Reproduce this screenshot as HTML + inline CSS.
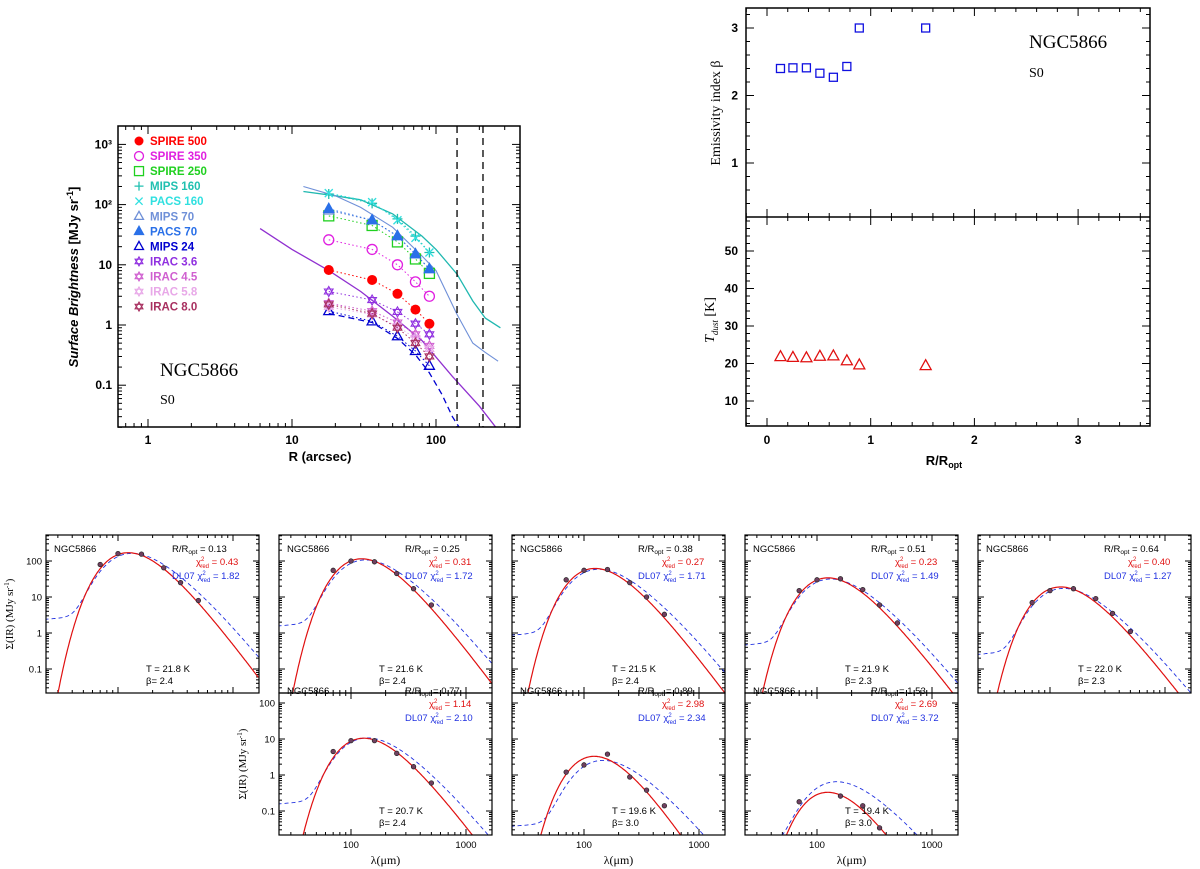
<!DOCTYPE html>
<html><head><meta charset="utf-8">
<style>
body{margin:0;background:#fff;}
svg{display:block;font-family:"Liberation Sans",sans-serif;}
.serif{font-family:"Liberation Serif",serif;}
</style></head>
<body>
<svg id="fig" width="1200" height="869" viewBox="0 0 1200 869" xmlns="http://www.w3.org/2000/svg"></svg>
<script>
// ---------- Top-left profile data ----------
const profR = [18, 36, 54, 72, 90];
const profNames = ["SPIRE 500","SPIRE 350","SPIRE 250","MIPS 160","PACS 160","MIPS 70","PACS 70","MIPS 24","IRAC 3.6","IRAC 4.5","IRAC 5.8","IRAC 8.0"];
const profColors = ["#ff0000","#e020e0","#20d020","#20c0b0","#30e0e0","#6f90d8","#2a70e8","#0000d0","#9030e0","#d060d0","#e8a8e8","#a83060"];
const profMarkers = ["fcircle","ocircle","osquare","plus","cross","otri","ftri","otri","star","star","star","star"];
const sSpire500 = [8.2, 5.6, 3.3, 1.8, 1.05];
const sSpire350 = [26, 18, 10, 5.2, 3.0];
const sSpire250 = [65, 45, 24, 12.5, 7.2];
const sMips160 = [150, 105, 58, 30, 16];
const sPacs160 = [155, 110, 55, 28, 16];
const sMips70 = [80, 55, 30, 15, 8.5];
const sPacs70 = [85, 55, 30, 15, 8.5];
const sMips24 = [1.7, 1.15, 0.65, 0.37, 0.21];
const sIrac36 = [3.6, 2.6, 1.65, 1.05, 0.7];
const sIrac45 = [2.3, 1.7, 1.1, 0.7, 0.45];
const sIrac58 = [2.0, 1.5, 0.95, 0.6, 0.4];
const sIrac80 = [2.2, 1.55, 0.9, 0.5, 0.3];
const profSeries = [sSpire500,sSpire350,sSpire250,sMips160,sPacs160,sMips70,sPacs70,sMips24,sIrac36,sIrac45,sIrac58,sIrac80];
const lineIracR = [6,10,18,30,50,80,130,200,260];
const lineIracV = [40,18,8,3.6,1.4,0.55,0.14,0.045,0.02];
const lineM160R = [12,20,30,50,80,100,140,180,220,280];
const lineM160V = [165,140,120,70,30,18,7,2.5,1.3,0.9];
const lineM70R = [12,20,30,50,80,100,140,180,220,270];
const lineM70V = [200,140,90,42,14,8,1.5,0.5,0.35,0.25];
const lineM24R = [18,36,54,72,90,110,130,145];
const lineM24V = [1.55,1.1,0.6,0.32,0.16,0.07,0.03,0.02];
const vLinesR = [140, 212];
// ---------- Top-right data ----------
const rOpt = [0.13,0.25,0.38,0.51,0.64,0.77,0.89,1.53];
const betaVals = [2.4,2.41,2.41,2.33,2.27,2.43,3.0,3.0];
const tdustVals = [21.8,21.6,21.5,21.9,22.0,20.7,19.6,19.4];
// ---------- SED panels data ----------
const sedLam = [70,100,160,250,350,500];
const sedR = ["0.13","0.25","0.38","0.51","0.64","0.77","0.89","1.53"];
const sedChi = ["0.43","0.31","0.27","0.23","0.40","1.14","2.98","2.69"];
const sedDL = ["1.82","1.72","1.71","1.49","1.27","2.10","2.34","3.72"];
const sedT = [21.8,21.6,21.5,21.9,22.0,20.7,19.6,19.4];
const sedBeta = [2.4,2.4,2.4,2.3,2.3,2.4,3.0,3.0];
const sedPeak = [170,115,62,34,19,10.5,3.3,0.33];
const sedDLPeak = [160,105,58,31,17,10.5,2.5,0.64];
const sedData = [
 [80,160,155,65,25,8],
 [55,100,95,45,17,6],
 [30,55,58,25,10,3.3],
 [15,30,32,16,6,1.9],
 [7,15,17,9,3.5,1.1],
 [4.5,9,9,4,1.7,0.6],
 [1.2,1.9,3.8,0.88,0.38,0.14],
 [0.18,null,0.26,0.14,0.034,0.012]
];

const NS="http://www.w3.org/2000/svg";
const svg=document.getElementById('fig');
function el(tag,attrs,parent){const e=document.createElementNS(NS,tag);for(const k in attrs)e.setAttribute(k,attrs[k]);(parent||svg).appendChild(e);return e;}
function txt(s,x,y,attrs,parent){const e=el('text',Object.assign({x:x,y:y},attrs||{}),parent);e.textContent=s;return e;}
const L10=Math.log10;

// ===== Top-left panel =====
const tl={x0:118,x1:520,y0:126,y1:427};
const txl=v=>148+144*L10(v);
const tyl=v=>325-60.2*L10(v);
const gTL=el('g',{});


const clipTL=el('clipPath',{id:'ctl'},gTL);el('rect',{x:tl.x0,y:tl.y0,width:tl.x1-tl.x0,height:tl.y1-tl.y0},clipTL);
function logTicks(g,a,b,map,horiz,fixedA,fixedB,maj,mi){
  for(let e=Math.floor(a);e<=Math.ceil(b);e++){for(let m=1;m<10;m++){const v=m*Math.pow(10,e);const lv=L10(v);if(lv<a||lv>b)continue;const p=map(v);const len=m==1?maj:mi;
    if(horiz){el('line',{x1:p,y1:fixedA,x2:p,y2:fixedA-len,stroke:'#000','stroke-width':1},g);el('line',{x1:p,y1:fixedB,x2:p,y2:fixedB+len,stroke:'#000','stroke-width':1},g);}
    else{el('line',{x1:fixedA,y1:p,x2:fixedA+len,y2:p,stroke:'#000','stroke-width':1},g);el('line',{x1:fixedB,y1:p,x2:fixedB-len,y2:p,stroke:'#000','stroke-width':1},g);}}}
}
logTicks(gTL,L10(0.62),L10(383),txl,true,tl.y1,tl.y0,8,4);
logTicks(gTL,-1.7,3.3,tyl,false,tl.x0,tl.x1,8,4);
const gTLd=el('g',{'clip-path':'url(#ctl)'},gTL);
function poly(R,V,xm,ym,attrs,g,name){const p=el('polyline',Object.assign({points:R.map((r,i)=>xm(r).toFixed(1)+','+ym(V[i]).toFixed(1)).join(' '),fill:'none'},attrs),g);return p;}
poly(lineIracR,lineIracV,txl,tyl,{stroke:'#9030d0','stroke-width':1.3},gTLd,'irac36-profile-line');
poly(lineM160R,lineM160V,txl,tyl,{stroke:'#20b8b0','stroke-width':1.3},gTLd,'mips160-profile-line');
poly(lineM70R,lineM70V,txl,tyl,{stroke:'#6f90d8','stroke-width':1.1},gTLd,'mips70-profile-line');
poly(lineM24R,lineM24V,txl,tyl,{stroke:'#0000d0','stroke-width':1.3,'stroke-dasharray':'6,4'},gTLd,'mips24-profile-line');
vLinesR.forEach(r=>{const l=el('line',{x1:txl(r),x2:txl(r),y1:tl.y0,y2:tl.y1,stroke:'#000','stroke-width':1.3,'stroke-dasharray':'7,5'},gTL);});
function marker(type,x,y,c,s,g){
  const w=1.3;
  if(type=='fcircle')return el('circle',{cx:x,cy:y,r:s,fill:c},g);
  if(type=='ocircle')return el('circle',{cx:x,cy:y,r:s,fill:'none',stroke:c,'stroke-width':w},g);
  if(type=='osquare')return el('rect',{x:x-s,y:y-s,width:2*s,height:2*s,fill:'none',stroke:c,'stroke-width':w},g);
  if(type=='plus')return el('path',{d:`M${x-s} ${y}H${x+s}M${x} ${y-s}V${y+s}`,stroke:c,'stroke-width':w},g);
  if(type=='cross')return el('path',{d:`M${x-s*0.8} ${y-s*0.8}L${x+s*0.8} ${y+s*0.8}M${x-s*0.8} ${y+s*0.8}L${x+s*0.8} ${y-s*0.8}`,stroke:c,'stroke-width':w},g);
  if(type=='otri'||type=='ftri')return el('path',{d:`M${x} ${y-s*1.1}L${x+s} ${y+s*0.7}L${x-s} ${y+s*0.7}Z`,fill:type=='ftri'?c:'none',stroke:c,'stroke-width':w},g);
  if(type=='star')return el('path',{d:`M${x} ${y-s}L${x+s*0.87} ${y+s*0.5}L${x-s*0.87} ${y+s*0.5}ZM${x} ${y+s}L${x+s*0.87} ${y-s*0.5}L${x-s*0.87} ${y-s*0.5}Z`,fill:'none',stroke:c,'stroke-width':1.1},g);
}
profSeries.forEach((vals,si)=>{
  const g=el('g',{},gTLd);
  
  
  poly(profR,vals,txl,tyl,{stroke:profColors[si],'stroke-width':1,'stroke-dasharray':'1.5,2.5'},g,'series-connector');
  vals.forEach((v,i)=>{const m=marker(profMarkers[si],txl(profR[i]),tyl(v),profColors[si],5,g);
    });
});
el('rect',{x:tl.x0,y:tl.y0,width:tl.x1-tl.x0,height:tl.y1-tl.y0,fill:'none',stroke:'#000','stroke-width':1.5},gTL);
const gLeg=el('g',{},gTL);
profNames.forEach((n,i)=>{const y=141+15.05*i;marker(profMarkers[i],139,y,profColors[i],4.5,gLeg);
  const t=txt(n,150,y+4,{fill:profColors[i],'font-size':11.5,'font-weight':'bold'},gLeg);});
[[1000,'10³'],[100,'10²'],[10,'10'],[1,'1'],[0.1,'0.1']].forEach(([v,s])=>{txt(s,112,tyl(v)+4,{'text-anchor':'end','font-size':12,'font-weight':'bold'},gTL);});
[[1,'1'],[10,'10'],[100,'100']].forEach(([v,s])=>{txt(s,txl(v),444,{'text-anchor':'middle','font-size':12,'font-weight':'bold'},gTL);});
txt('R (arcsec)',320,461,{'text-anchor':'middle','font-size':13,'font-weight':'bold'},gTL);
const yt=txt('',78,277,{'text-anchor':'middle','font-size':13,'font-weight':'bold',transform:'rotate(-90 78 277)'},gTL);

yt.innerHTML='<tspan font-style="italic">Surface Brightness</tspan> [MJy sr<tspan dy="-5" font-size="9">-1</tspan><tspan dy="5">]</tspan>';
txt('NGC5866',160,376,{'font-size':19,class:'serif'},gTL);
txt('S0',160,404,{'font-size':14,class:'serif'},gTL);

// ===== Top-right panel =====
const gTR=el('g',{});
const trx=v=>767+103.7*v;
const tyb=v=>163-67.5*(v-1);
const tyt=v=>401-3.75*(v-10);
const TR={x0:746,x1:1150,y0:8,ym:217,y1:426};
function linTicks(g,a,b,step,minor,map,horiz,A,B,maj,mi){
  for(let v=Math.ceil(a/minor)*minor;v<=b+1e-9;v+=minor){const p=map(v);const isM=Math.abs(v/step-Math.round(v/step))<1e-6;const len=isM?maj:mi;
    if(horiz){el('line',{x1:p,y1:A,x2:p,y2:A-len,stroke:'#000'},g);el('line',{x1:p,y1:B,x2:p,y2:B+len,stroke:'#000'},g);}
    else{el('line',{x1:A,y1:p,x2:A+len,y2:p,stroke:'#000'},g);el('line',{x1:B,y1:p,x2:B-len,y2:p,stroke:'#000'},g);}}
}
linTicks(gTR,-0.2,3.69,1,0.2,trx,true,TR.ym,TR.y0,8,4);
linTicks(gTR,-0.2,3.69,1,0.2,trx,true,TR.y1,TR.ym,8,4);
linTicks(gTR,0.2,3.3,1,0.2,tyb,false,TR.x0,TR.x1,8,4);
linTicks(gTR,3,59,10,2,tyt,false,TR.x0,TR.x1,8,4);
el('rect',{x:TR.x0,y:TR.y0,width:TR.x1-TR.x0,height:TR.y1-TR.y0,fill:'none',stroke:'#000','stroke-width':1.5},gTR);
el('line',{x1:TR.x0,x2:TR.x1,y1:TR.ym,y2:TR.ym,stroke:'#000','stroke-width':1.5},gTR);
rOpt.forEach((r,i)=>{const m=marker('osquare',trx(r),tyb(betaVals[i]),'#1010e0',4,gTR);
  const t=marker('otri',trx(r),tyt(tdustVals[i]),'#e01010',5.5,gTR);});
[1,2,3].forEach(v=>txt(String(v),738,tyb(v)+4,{'text-anchor':'end','font-size':12,'font-weight':'bold'},gTR));
[10,20,30,40,50].forEach(v=>txt(String(v),738,tyt(v)+4,{'text-anchor':'end','font-size':12,'font-weight':'bold'},gTR));
[0,1,2,3].forEach(v=>txt(String(v),trx(v),444,{'text-anchor':'middle','font-size':12,'font-weight':'bold'},gTR));
const xr=txt('',944,465,{'text-anchor':'middle','font-size':13,'font-weight':'bold'},gTR);
xr.innerHTML='R/R<tspan dy="3" font-size="9">opt</tspan>';
const yb=txt('Emissivity index β',720,113,{'text-anchor':'middle','font-size':14,class:'serif',transform:'rotate(-90 720 113)'},gTR);
const ytd=txt('',714,320,{'text-anchor':'middle','font-size':14,class:'serif',transform:'rotate(-90 714 320)'},gTR);
ytd.innerHTML='<tspan font-style="italic">T</tspan><tspan dy="4" font-size="9" font-style="italic">dust</tspan><tspan dy="-4">  [K]</tspan>';
txt('NGC5866',1029,48,{'font-size':19,class:'serif'},gTR);
txt('S0',1029,77,{'font-size':14,class:'serif'},gTR);

// ===== SED panels =====
function mbb(lam,T,b){const x=14388/(lam*T);return Math.pow(lam,-(3+b))/(Math.exp(x)-1);}
const lamGrid=[];for(let l=L10(20);l<=L10(1700);l+=0.01)lamGrid.push(Math.pow(10,l));
const panels=[[0,0],[1,0],[2,0],[3,0],[4,0],[1,1],[2,1],[3,1]];
panels.forEach(([col,row],k)=>{
  const x0=46+233*col,w=213;
  const yb0=row==0?693:835;
  const vtop=yb0-158;
  const ytop=row==0?535:693;
  const sx=v=>x0+(L10(v)-1.374)*115;
  const sy=v=>yb0-(L10(v)+1.667)*36;
  const g=el('g',{});
  const cid='cs'+k;const cp=el('clipPath',{id:cid},g);el('rect',{x:x0,y:ytop,width:w,height:yb0-ytop},cp);
  const gd=el('g',{'clip-path':`url(#${cid})`},g);
  logTicks(gd,1.374,3.2,sx,true,yb0,ytop,6,3);
  logTicks(gd,-1.667,2.72,sy,false,x0,x0+w,6,3);
  const T=sedT[k],b=sedBeta[k];
  let mx=0;lamGrid.forEach(l=>{mx=Math.max(mx,mbb(l,T,b));});
  const red=lamGrid.map(l=>sedPeak[k]*mbb(l,T,b)/mx);
  let mx2=0;lamGrid.forEach(l=>{mx2=Math.max(mx2,mbb(l,T+1,1.8));});
  const blue=lamGrid.map(l=>sedDLPeak[k]*(mbb(l,T+1,1.8)/mx2+0.017*Math.pow(l/24,0.4)*Math.exp(-l/200)));
  const clampy=v=>Math.min(sy(Math.max(v,1e-4)),yb0+50);
  const mk=(arr,attrs,name)=>{const p=el('polyline',Object.assign({points:lamGrid.map((l,i)=>sx(l).toFixed(1)+','+clampy(arr[i]).toFixed(1)).join(' '),fill:'none'},attrs),gd);};
  mk(blue,{stroke:'#2030e0','stroke-width':0.9,'stroke-dasharray':'4,3'},'dl07-model-curve');
  mk(red,{stroke:'#e01010','stroke-width':1.2},'mbb-fit-curve');
  sedData[k].forEach((v,i)=>{if(v==null)return;const c=el('circle',{cx:sx(sedLam[i]),cy:sy(v),r:2.3,fill:'#704060',stroke:'#222','stroke-width':0.7},gd);});
  el('rect',{x:x0,y:ytop,width:w,height:yb0-ytop,fill:'none',stroke:'#000','stroke-width':1.2},g);
  txt('NGC5866',x0+8,vtop+17,{'font-size':9.5},g);
  const r1=txt('',x0+126,vtop+17,{'font-size':9.5},g);r1.innerHTML='R/R<tspan dy="2" font-size="6.5">opt</tspan><tspan dy="-2"> = '+sedR[k]+'</tspan>';
  const r2=txt('',x0+150,vtop+30,{'font-size':9.5,fill:'#e01010'},g);r2.innerHTML='χ<tspan dy="-4" font-size="6">2</tspan><tspan dx="-4" dy="7" font-size="6">red</tspan><tspan dy="-3"> = '+sedChi[k]+'</tspan>';
  const r3=txt('',x0+126,vtop+44,{'font-size':9.5,fill:'#2030e0'},g);r3.innerHTML='DL07 χ<tspan dy="-4" font-size="6">2</tspan><tspan dx="-4" dy="7" font-size="6">red</tspan><tspan dy="-3"> = '+sedDL[k]+'</tspan>';
  txt('T = '+T.toFixed(1)+' K',x0+100,vtop+137,{'font-size':9.5},g);
  txt('β= '+b.toFixed(1),x0+100,vtop+149,{'font-size':9.5},g);
  if(col==0||(row==1&&col==1)){
    [[100,'100'],[10,'10'],[1,'1'],[0.1,'0.1']].forEach(([v,s])=>{if(sy(v)>ytop+3)txt(s,x0-4,sy(v)+3.5,{'text-anchor':'end','font-size':9.5},g);});
    const cy=(row==0?614:764),cx=x0-33;
    const yl=txt('',cx,cy,{'text-anchor':'middle','font-size':11,class:'serif',transform:`rotate(-90 ${cx} ${cy})`},g);
    
    yl.innerHTML='Σ(IR) (MJy sr<tspan dy="-4" font-size="7">-1</tspan><tspan dy="4">)</tspan>';
  }
  if(row==1){
    txt('100',sx(100),848,{'text-anchor':'middle','font-size':9.5},g);
    txt('1000',sx(1000),848,{'text-anchor':'middle','font-size':9.5},g);
    const xl=txt('λ(μm)',x0+w/2,864,{'text-anchor':'middle','font-size':12,class:'serif'},g);
  }
});
</script>
</body></html>
